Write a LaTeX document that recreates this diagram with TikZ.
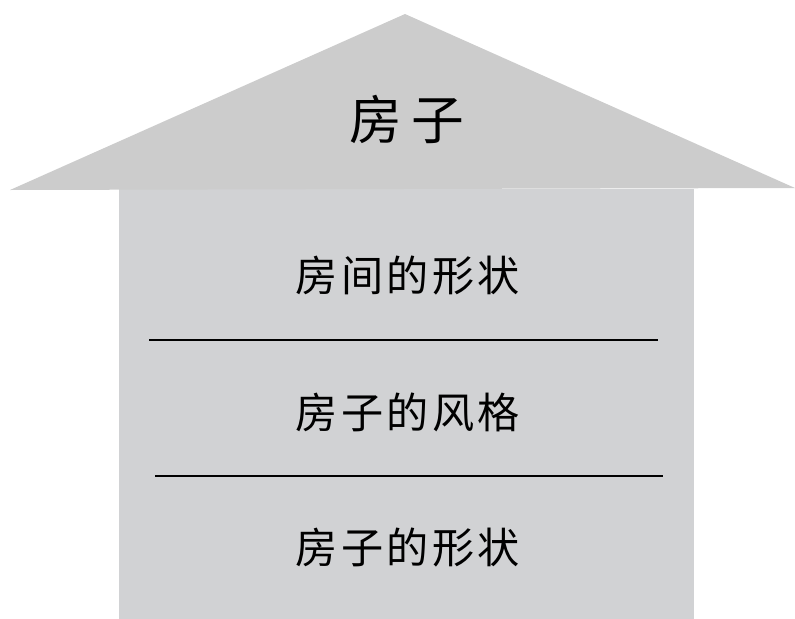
\documentclass[tikz,border=0pt]{standalone}
\usepackage{fontspec}
\usepackage{tikz}
\usetikzlibrary{positioning}
\newfontfamily\cjkroof[LetterSpace=17]{Noto Sans CJK SC}
\newfontfamily\cjkbody[LetterSpace=8]{Noto Sans CJK SC}
\definecolor{gray80}{RGB}{204,204,204}
\definecolor{gray82}{RGB}{209,210,212}

\begin{document}
\begin{tikzpicture}[x=0.02cm,y=-0.02cm]
    \tikzstyle{roof}=[fill=gray80,draw=none] %
    \tikzstyle{wall}=[fill=gray82,draw=none] %
    \tikzstyle{title}=[font=\fontsize{30}{36}\selectfont\cjkroof,inner sep=0pt] %
    \tikzstyle{floor}=[font=\fontsize{24}{29}\selectfont\cjkbody,inner sep=0pt] %
    \tikzstyle{divider}=[black,line width=0.04cm] %

    \useasboundingbox (0,0) rectangle (795,619);

    \fill[wall] (119,189) rectangle (694,619);
    \fill[roof] (10,190) -- (405,14) -- (795,188) -- cycle;

    \node[title] (HOUSE) at (407,119) {房子};

    \node[floor] (ROOM) at (408,276) {房间的形状};
    \node[floor] (STYLE) at (408,412) {房子的风格};
    \node[floor] (SHAPE) at (408,548) {房子的形状};

    \coordinate (L1a) at (149,340);
    \coordinate (L1b) at (658,340);
    \coordinate (L2a) at (155,476);
    \coordinate (L2b) at (663,476);

    \draw[divider] (L1a) -- (L1b);
    \draw[divider] (L2a) -- (L2b);
\end{tikzpicture}
\end{document}
